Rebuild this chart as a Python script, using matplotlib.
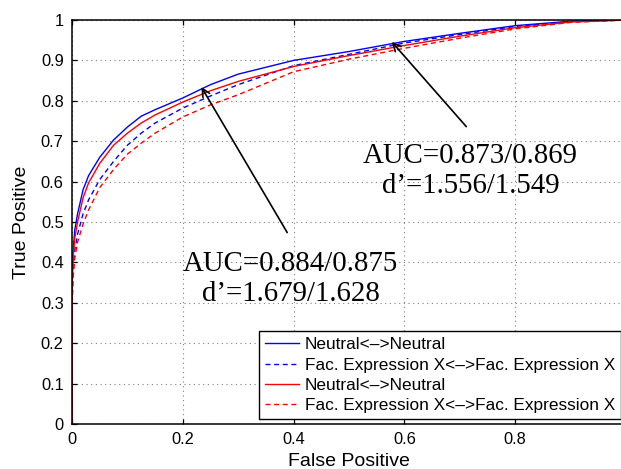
"""ROC curves: Neutral vs facial expression matching."""

import matplotlib
matplotlib.use("Agg")
import matplotlib.pyplot as plt

# false positive rate shared by all curves (first two points = vertical start at x=0)
fpr = [0, 0, 0.002, 0.005, 0.01, 0.02, 0.03, 0.05, 0.075, 0.1, 0.125, 0.15,
       0.2, 0.25, 0.3, 0.4, 0.5, 0.6, 0.7, 0.8, 0.9, 1.0]

tpr_blue_neutral = [0, 0.35, 0.43, 0.48, 0.52, 0.58, 0.615, 0.66, 0.703, 0.735, 0.762, 0.778,
                    0.807, 0.84, 0.866, 0.900, 0.922, 0.947, 0.967, 0.986, 0.997, 1.0]
tpr_blue_expr = [0, 0.30, 0.38, 0.43, 0.47, 0.52, 0.555, 0.605, 0.65, 0.69, 0.72, 0.745,
                 0.782, 0.812, 0.84, 0.887, 0.915, 0.943, 0.964, 0.984, 0.996, 1.0]
tpr_red_neutral = [0, 0.33, 0.41, 0.46, 0.50, 0.56, 0.597, 0.645, 0.69, 0.72, 0.745, 0.765,
                   0.797, 0.825, 0.848, 0.885, 0.912, 0.937, 0.96, 0.981, 0.995, 1.0]
tpr_red_expr = [0, 0.28, 0.36, 0.41, 0.45, 0.495, 0.53, 0.585, 0.63, 0.668, 0.695, 0.72,
                0.76, 0.79, 0.815, 0.872, 0.903, 0.93, 0.955, 0.978, 0.994, 1.0]

labels = ["Neutral<\u2013>Neutral", "Fac. Expression X<\u2013>Fac. Expression X",
          "Neutral<\u2013>Neutral", "Fac. Expression X<\u2013>Fac. Expression X"]

x_ticks = [0, 0.2, 0.4, 0.6, 0.8]
x_ticklabels = ["0", "0.2", "0.4", "0.6", "0.8"]
y_ticks = [0, 0.1, 0.2, 0.3, 0.4, 0.5, 0.6, 0.7, 0.8, 0.9, 1.0]
y_ticklabels = ["0", "0.1", "0.2", "0.3", "0.4", "0.5", "0.6", "0.7", "0.8", "0.9", "1"]

text_left = "AUC=0.884/0.875\nd\u2019=1.679/1.628"
text_right = "AUC=0.873/0.869\nd\u2019=1.556/1.549"

plt.rcParams["font.family"] = ["Liberation Sans", "DejaVu Sans"]

W, H = 621, 469
fig = plt.figure(figsize=(W / 100, H / 100), dpi=100)
# axes runs slightly past the right edge, like the cropped original
ax = fig.add_axes([72 / W, 45 / H, 554 / W, 404 / H])

dash = (0, (3.6, 2.6))
ax.plot(fpr, tpr_blue_neutral, color="#0000ff", lw=1.0, label=labels[0])
ax.plot(fpr, tpr_blue_expr, color="#0000ff", lw=1.0, ls=dash, label=labels[1])
ax.plot(fpr, tpr_red_neutral, color="#ff0000", lw=1.0, label=labels[2])
ax.plot(fpr, tpr_red_expr, color="#ff0000", lw=1.0, ls=dash, label=labels[3])

ax.set_xlim(0, 1)
ax.set_ylim(0, 1)
ax.set_xticks(x_ticks)
ax.set_xticklabels(x_ticklabels)
ax.set_yticks(y_ticks)
ax.set_yticklabels(y_ticklabels)
ax.tick_params(direction="in", length=3.6, width=0.9, labelsize=11.8, pad=6,
               top=True, right=True)
ax.grid(True, color="0.5", ls=(0, (1, 3.2)), lw=0.8)
for s in ax.spines.values():
    s.set_linewidth(1.1)

ax.set_xlabel("False Positive", fontsize=14, labelpad=4)
ax.set_ylabel("True Positive", fontsize=14, labelpad=8)

arrow = dict(arrowstyle="->", color="black", lw=1.2, mutation_scale=14)
ax.annotate("", xy=(0.231, 0.840), xytext=(0.391, 0.468), arrowprops=arrow)
ax.annotate("", xy=(0.574, 0.951), xytext=(0.715, 0.731), arrowprops=arrow)
ax.text(0.395, 0.359, text_left, ha="center", va="center", fontsize=20.8,
        family="Liberation Serif", linespacing=1.2)
ax.text(0.719, 0.627, text_right, ha="center", va="center", fontsize=20.8,
        family="Liberation Serif", linespacing=1.2)

leg = ax.legend(loc="lower left", bbox_to_anchor=(187 / 554, 0.012), fontsize=12.4,
                frameon=True, fancybox=False, framealpha=1, edgecolor="black",
                handlelength=2.0, handletextpad=0.3, labelspacing=0.3,
                borderpad=0.35, borderaxespad=0)
leg.get_frame().set_linewidth(1.0)

fig.savefig("out.png", dpi=100)
plt.close(fig)
